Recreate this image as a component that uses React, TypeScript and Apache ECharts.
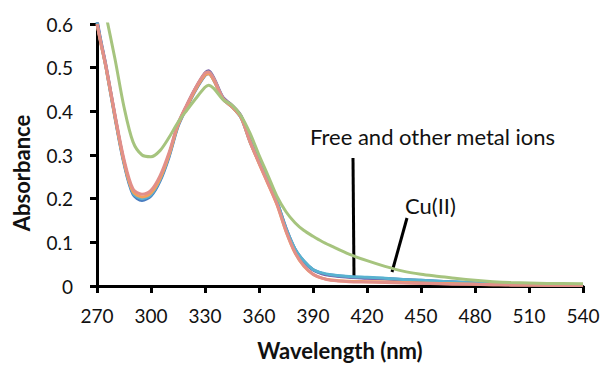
import React, { useEffect, useRef } from "react";
import * as echarts from "echarts";

const wavelengths = [270, 272, 275, 280, 285, 290, 295, 300, 305, 310, 315, 320, 325, 330, 332, 335, 340, 345, 350, 355, 360, 365, 370, 375, 380, 385, 390, 395, 400, 410, 420, 430, 440, 450, 460, 470, 480, 490, 500, 520, 540];

const freeBlue = [0.605, 0.56, 0.5, 0.385, 0.28, 0.21, 0.196, 0.206, 0.24, 0.295, 0.365, 0.41, 0.45, 0.482, 0.486, 0.47, 0.428, 0.41, 0.385, 0.33, 0.283, 0.237, 0.19, 0.13, 0.083, 0.055, 0.037, 0.029, 0.025, 0.021, 0.019, 0.017, 0.015, 0.013, 0.011, 0.009, 0.007, 0.005, 0.004, 0.003, 0.002];
const ionPurple = [0.61, 0.565, 0.505, 0.39, 0.285, 0.215, 0.202, 0.211, 0.245, 0.3, 0.37, 0.415, 0.455, 0.488, 0.493, 0.476, 0.432, 0.414, 0.39, 0.335, 0.287, 0.24, 0.193, 0.133, 0.085, 0.056, 0.037, 0.028, 0.024, 0.02, 0.018, 0.016, 0.014, 0.012, 0.01, 0.008, 0.006, 0.005, 0.004, 0.003, 0.002];
const ionAqua = [0.605, 0.562, 0.502, 0.388, 0.283, 0.213, 0.2, 0.209, 0.243, 0.298, 0.368, 0.413, 0.453, 0.486, 0.49, 0.474, 0.43, 0.412, 0.388, 0.333, 0.285, 0.239, 0.192, 0.132, 0.085, 0.057, 0.038, 0.03, 0.026, 0.022, 0.02, 0.018, 0.015, 0.013, 0.011, 0.009, 0.007, 0.005, 0.004, 0.003, 0.002];
const ionOrange = [0.6, 0.558, 0.5, 0.387, 0.284, 0.216, 0.204, 0.213, 0.246, 0.3, 0.368, 0.412, 0.452, 0.483, 0.486, 0.47, 0.428, 0.41, 0.386, 0.33, 0.281, 0.234, 0.186, 0.125, 0.076, 0.045, 0.027, 0.018, 0.014, 0.011, 0.01, 0.009, 0.008, 0.007, 0.006, 0.005, 0.004, 0.003, 0.003, 0.002, 0.001];
const ionRed = [0.6, 0.56, 0.503, 0.392, 0.29, 0.222, 0.21, 0.219, 0.252, 0.305, 0.372, 0.416, 0.456, 0.487, 0.49, 0.474, 0.43, 0.412, 0.388, 0.331, 0.282, 0.235, 0.187, 0.126, 0.077, 0.046, 0.027, 0.018, 0.013, 0.01, 0.009, 0.008, 0.007, 0.006, 0.005, 0.004, 0.004, 0.003, 0.002, 0.002, 0.001];
const copperGreen = [0.72, 0.68, 0.62, 0.52, 0.41, 0.33, 0.3, 0.296, 0.31, 0.34, 0.375, 0.403, 0.43, 0.455, 0.46, 0.452, 0.427, 0.414, 0.39, 0.35, 0.3, 0.253, 0.205, 0.17, 0.145, 0.127, 0.114, 0.102, 0.092, 0.073, 0.058, 0.045, 0.034, 0.027, 0.022, 0.017, 0.013, 0.01, 0.008, 0.006, 0.005];

const xTicks = { min: 270, max: 540, interval: 30 };
const yTicks = { min: 0, max: 0.6, interval: 0.1 };

const seriesDefs = [
  { name: "Free", values: freeBlue, color: "#4a7cc0" },
  { name: "Ion A", values: ionPurple, color: "#7b5fa6" },
  { name: "Ion B", values: ionAqua, color: "#58b2d0" },
  { name: "Ion C", values: ionOrange, color: "#f3a05c" },
  { name: "Ion D", values: ionRed, color: "#e28f89" },
  { name: "Cu(II)", values: copperGreen, color: "#a6c47e" },
];

const FONT = "Lato, 'Open Sans', sans-serif";

export default function App() {
  const ref = useRef<HTMLDivElement>(null);
  useEffect(() => {
    if (!ref.current) return;
    const chart = echarts.init(ref.current, undefined, { renderer: "svg" });
    chart.setOption({
      animation: false,
      backgroundColor: "#ffffff",
      grid: { left: 97, right: 27, top: 24, bottom: 75, containLabel: false },
      xAxis: {
        type: "value",
        min: xTicks.min,
        max: xTicks.max,
        interval: xTicks.interval,
        name: "Wavelength (nm)",
        nameLocation: "middle",
        nameGap: 53,
        nameTextStyle: { fontFamily: FONT, fontSize: 22, fontWeight: "bold", color: "#111", verticalAlign: "top" },
        axisLine: { show: true, onZero: false, lineStyle: { color: "#000", width: 3 } },
        axisTick: { show: true, length: 7, inside: false, lineStyle: { color: "#000", width: 3 } },
        axisLabel: { fontFamily: FONT, fontSize: 19, color: "#111", margin: 20 },
        splitLine: { show: false },
      },
      yAxis: {
        type: "value",
        min: yTicks.min,
        max: yTicks.max,
        interval: yTicks.interval,
        axisLine: { show: true, lineStyle: { color: "#000", width: 3 } },
        axisTick: { show: true, length: 7, inside: false, lineStyle: { color: "#000", width: 3 } },
        axisLabel: { fontFamily: FONT, fontSize: 19, color: "#111", margin: 24 },
        splitLine: { show: false },
      },
      series: seriesDefs.map((s) => ({
        name: s.name,
        type: "line",
        data: wavelengths.map((w, i) => [w, s.values[i]]),
        showSymbol: false,
        smooth: 0.3,
        clip: true,
        lineStyle: { color: s.color, width: 3 },
        itemStyle: { color: s.color },
      })),
      graphic: [
        { type: "line", shape: { x1: 353, y1: 158, x2: 354, y2: 278 }, style: { stroke: "#000", lineWidth: 3 } },
        { type: "line", shape: { x1: 407, y1: 218, x2: 392, y2: 272 }, style: { stroke: "#000", lineWidth: 3 } },
        { type: "text", x: 310, y: 136, style: { text: "Free and other metal ions", fontFamily: FONT, fontSize: 22, fill: "#111", verticalAlign: "middle" } },
        { type: "text", x: 405, y: 205, style: { text: "Cu(II)", fontFamily: FONT, fontSize: 22, fill: "#111", verticalAlign: "middle" } },
        { type: "text", x: 21, y: 173, rotation: Math.PI / 2, style: { text: "Absorbance", fontFamily: FONT, fontSize: 22, fontWeight: "bold", fill: "#111", align: "center", verticalAlign: "middle" } },
      ],
    });
    return () => chart.dispose();
  }, []);
  return <div ref={ref} style={{ position: "fixed", left: 0, top: 0, width: 610, height: 366 }} />;
}
